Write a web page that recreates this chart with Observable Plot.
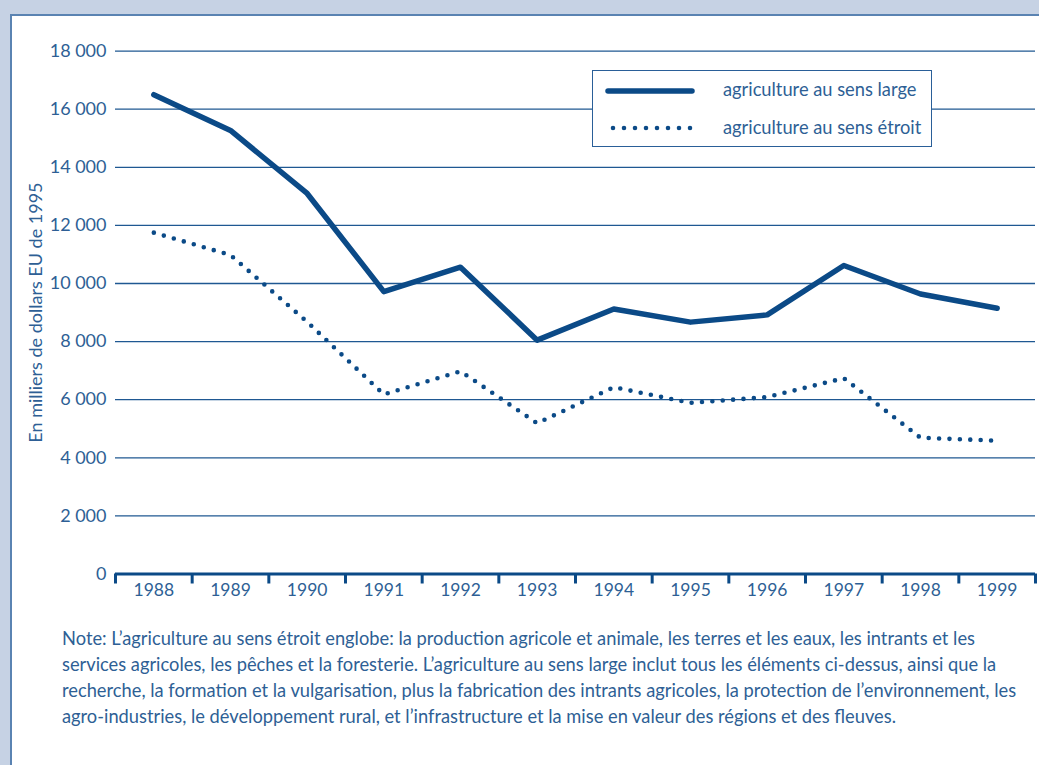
<!DOCTYPE html>
<html>
<head>
<meta charset="utf-8">
<script src="https://cdn.jsdelivr.net/npm/d3@7"></script>
<script src="https://cdn.jsdelivr.net/npm/@observablehq/plot@0.6"></script>
<style>
  html, body { margin: 0; padding: 0; background: #c6d2e4; width: 1039px; height: 765px; overflow: hidden; font-family: Lato, "Open Sans", sans-serif; }
  #panel { position: absolute; left: 10px; top: 14px; width: 1100px; height: 800px; background: #ffffff; border-left: 2px solid #5a83b2; border-top: 2px solid #5a83b2; }
  #chart { position: absolute; left: 0; top: 0; }
  #legend { position: absolute; left: 592px; top: 70px; width: 338px; height: 75px; background: #fff; border: 1.5px solid #2a5f98; }
  #legend svg { position: absolute; left: 0; top: 0; }
  #legend .lab { position: absolute; left: 130px; font-size: 18.3px; color: #2e5f95; white-space: nowrap; }
  #note { position: absolute; left: 62px; top: 625px; font-size: 18.3px; line-height: 26px; color: #2e5f95; white-space: nowrap; }
</style>
</head>
<body>
<div id="panel"></div>
<div id="chart"></div>
<div id="legend"></div>
<div id="note"></div>
<script>
const years = [1988, 1989, 1990, 1991, 1992, 1993, 1994, 1995, 1996, 1997, 1998, 1999];
const largeValues = [16500, 15270, 13100, 9720, 10560, 8050, 9120, 8670, 8920, 10620, 9640, 9150];
const narrowValues = [11750, 10980, 8680, 6180, 6980, 5190, 6430, 5890, 6090, 6740, 4690, 4590];
const yTicks = [0, 2000, 4000, 6000, 8000, 10000, 12000, 14000, 16000, 18000];
const seriesNames = ["agriculture au sens large", "agriculture au sens étroit"];
const yLabel = "En milliers de dollars EU de 1995";
const noteLines = [
  "Note: L’agriculture au sens étroit englobe: la production agricole et animale, les terres et les eaux, les intrants et les",
  "services agricoles, les pêches et la foresterie. L’agriculture au sens large inclut tous les éléments ci-dessus, ainsi que la",
  "recherche, la formation et la vulgarisation, plus la fabrication des intrants agricoles, la protection de l’environnement, les",
  "agro-industries, le développement rural, et l’infrastructure et la mise en valeur des régions et des fleuves."
];

const lineColor = "#0b4a87";
const textColor = "#2e5f95";
const gridColor = "#1f5892";

const largeData = years.map((yr, i) => ({year: yr, value: largeValues[i]}));
const narrowData = years.map((yr, i) => ({year: yr, value: narrowValues[i]}));
const boundaries = years.map(y => y - 0.5).concat([years[years.length - 1] + 0.5]);
const fmt = d => d3.format(",")(d).replace(/,/g, " ");

const chart = Plot.plot({
  width: 1039,
  height: 620,
  marginLeft: 115,
  marginRight: 4,
  marginTop: 50.6,
  marginBottom: 46.5,
  style: {background: "transparent", fontFamily: "Lato, 'Open Sans', sans-serif", color: textColor, overflow: "visible"},
  x: {type: "linear", domain: [boundaries[0], boundaries[boundaries.length - 1]]},
  y: {domain: [0, 18000]},
  marks: [
    Plot.ruleY(yTicks.filter(d => d > 0), {stroke: gridColor, strokeWidth: 1.3}),
    Plot.axisY({ticks: yTicks, tickSize: 0, tickPadding: 9, tickFormat: fmt, fontSize: 18, fill: textColor, label: null}),
    Plot.axisX({ticks: boundaries, tickSize: 10, tickFormat: () => "", stroke: lineColor, strokeWidth: 3, label: null}),
    Plot.axisX({ticks: years, tickSize: 0, tickPadding: 10, tickFormat: d => String(d), fontSize: 17.5, fill: textColor, label: null}),
    Plot.ruleY([0], {stroke: lineColor, strokeWidth: 3}),
    Plot.line(narrowData, {x: "year", y: "value", stroke: lineColor, strokeWidth: 4.6, strokeDasharray: "0 10.4", strokeLinecap: "round"}),
    Plot.line(largeData, {x: "year", y: "value", stroke: lineColor, strokeWidth: 5.5, strokeLinecap: "round", strokeLinejoin: "round"}),
    Plot.text([yLabel], {text: d => d, frameAnchor: "left", textAnchor: "middle", dx: -79, rotate: -90, fontSize: 18, fill: textColor})
  ]
});
document.getElementById("chart").appendChild(chart);

// legend
const legend = document.getElementById("legend");
legend.innerHTML =
  `<svg width="338" height="75">
     <line x1="15" y1="20" x2="99" y2="20" stroke="${lineColor}" stroke-width="5.5" stroke-linecap="round"/>
     <line x1="20" y1="57" x2="100" y2="57" stroke="${lineColor}" stroke-width="4.6" stroke-linecap="round" stroke-dasharray="0 11"/>
   </svg>
   <div class="lab" style="top:7px">${seriesNames[0]}</div>
   <div class="lab" style="top:45px">${seriesNames[1]}</div>`;

document.getElementById("note").innerHTML = noteLines.join("<br>");
</script>
</body>
</html>
